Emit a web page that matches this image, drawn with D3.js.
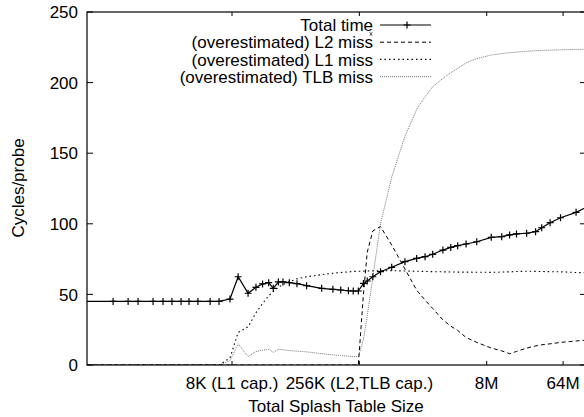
<!DOCTYPE html>
<html>
<head>
<meta charset="utf-8">
<script src="https://cdn.jsdelivr.net/npm/d3@7"></script>
<style>
  body { margin: 0; background: #fff; }
  text { font-family: "Liberation Sans", Arial, sans-serif; font-size: 17px; fill: #000; }
</style>
</head>
<body>
<div id="chart"></div>
<script>
// table size as log2(bytes)
let sizeLog2 = [7.00, 8.33, 8.92, 9.31, 9.90, 10.29, 10.64, 11.00, 11.31, 11.66, 12.14, 12.49,
  12.92, 13.24, 13.63, 13.94, 14.20, 14.44, 14.62, 14.82, 15.00, 15.25, 15.55, 15.93,
  16.52, 16.96, 17.27, 17.57, 17.76, 17.96, 18.16, 18.31, 18.53, 18.83, 19.27, 19.79,
  20.25, 20.58, 20.88, 21.28, 21.59, 21.86, 22.19, 22.61, 23.18, 23.59, 23.90, 24.17,
  24.57, 24.92, 25.16, 25.49, 25.90, 26.51, 27.00]

let totalTime = [45, 45, 45, 45, 45, 45, 45, 45, 45, 45, 45, 45,
  46.7, 62.5, 50.8, 55, 57.4, 58.3, 54.3, 58.8, 58.8, 58.3, 57.6, 56.2,
  54.3, 53.6, 53.1, 52.6, 52.4, 52.4, 57.8, 59.5, 62.5, 66.1, 69.2, 73.2,
  75.5, 76.7, 78.4, 81.4, 83.3, 84.5, 85.7, 87.3, 90.4, 90.9, 92.1, 92.8,
  93.3, 94.4, 97.2, 100.8, 104.3, 108.1, 112.6]

let l2Miss = [0, 0, 0, 0, 0, 0, 0, 0, 0, 0, 0, 0,
  0, 0, 0, 0, 0, 0, 0, 0, 0, 0, 0, 0,
  0, 0, 0, 0, 0, 0, 50, 80, 95, 98, 85, 68,
  53, 46, 40, 32, 27.5, 24.5, 19.5, 16, 12, 10, 8, 9.6,
  12, 13.5, 14.3, 15, 16, 17, 17.8]

let l1Miss = [0, 0, 0, 0, 0, 0, 0, 0, 0, 0, 0, 0,
  5, 23, 27, 37, 43.5, 49, 52, 55, 57, 59, 61, 62.5,
  64, 65, 65.5, 66, 66.2, 66.4, 66.5, 66.6, 66.7, 66.8, 66.8, 66.6,
  66.4, 66.2, 66.1, 66, 65.9, 65.8, 65.8, 65.7, 65.6, 65.8, 66, 66.2,
  66.4, 66.3, 66.2, 66.1, 66, 65.5, 65.2]

let tlbMiss = [0, 0, 0, 0, 0, 0, 0, 0, 0, 0, 0, 0,
  3, 15, 6, 9.5, 10.5, 11, 9, 11, 10.8, 10.2, 9.8, 9.3,
  8, 7.2, 6.7, 6.2, 6, 5.9, 18, 35, 62, 100, 133, 162,
  181, 190, 197, 203, 207, 210, 214, 217, 219.5, 220.5, 221.2, 221.6,
  222.2, 222.6, 222.8, 223, 223.2, 223.5, 223.6]

let xTickLog2 = [13, 18, 23, 26]
let xTickLabels = ["8K (L1 cap.)", "256K (L2,TLB cap.)", "8M", "64M"]
let yTicks = [0, 50, 100, 150, 200, 250]

let seriesNames = ["Total time", "(overestimated) L2 miss", "(overestimated) L1 miss", "(overestimated) TLB miss"]

let width = 584, height = 417
let margin = {top: 12, right: -2, bottom: 52, left: 87}
let plotW = width - margin.left - margin.right,
    plotH = height - margin.top - margin.bottom

let svg = d3.select("#chart").append("svg")
    .attr("width", width)
    .attr("height", height)

let g = svg.append("g")
    .attr("transform", "translate(" + margin.left + "," + margin.top + ")")

let x = d3.scaleLog().base(2)
    .domain([Math.pow(2, 7.305), Math.pow(2, 26.9)])
    .range([0, plotW])
let y = d3.scaleLinear().domain([0, 250]).range([plotH, 0])

g.append("clipPath").attr("id", "clip")
    .append("rect").attr("width", plotW).attr("height", plotH)

let points = sizeLog2.map((s, i) => ({
    size: Math.pow(2, s),
    total: totalTime[i], l2: l2Miss[i], l1: l1Miss[i], tlb: tlbMiss[i]
}))

let styles = [
    {key: "total", color: "#000", dash: null, w: 1.2},
    {key: "l2", color: "#000", dash: "4,3", w: 1},
    {key: "l1", color: "#000", dash: "1.5,3", w: 1.1},
    {key: "tlb", color: "#777", dash: "1,1", w: 1}
]

let plot = g.append("g").attr("clip-path", "url(#clip)")

// draw TLB, L1, L2 then total on top
;[3, 2, 1, 0].forEach(k => {
    let st = styles[k]
    let line = d3.line()
        .x(d => x(d.size))
        .y(d => y(d[st.key]))
    plot.append("path")
        .datum(points)
        .attr("fill", "none")
        .attr("stroke", st.color)
        .attr("stroke-width", st.w)
        .attr("stroke-dasharray", st.dash)
        .attr("d", line)
})

plot.selectAll(".mark").data(points)
    .enter()
    .append("path")
    .attr("transform", d => "translate(" + x(d.size) + "," + y(d.total) + ")")
    .attr("d", "M-3.5,0H3.5M0,-3.5V3.5")
    .attr("stroke", "#000")
    .attr("stroke-width", 1.2)

// border and ticks
g.append("rect")
    .attr("width", plotW).attr("height", plotH)
    .attr("fill", "none").attr("stroke", "#000").attr("stroke-width", 1.2)

yTicks.forEach(t => {
    g.append("line").attr("x1", 0).attr("x2", 6).attr("y1", y(t)).attr("y2", y(t)).attr("stroke", "#000")
    g.append("line").attr("x1", plotW - 6).attr("x2", plotW).attr("y1", y(t)).attr("y2", y(t)).attr("stroke", "#000")
    g.append("text")
        .attr("x", -9).attr("y", y(t))
        .attr("dy", "0.36em")
        .attr("text-anchor", "end")
        .text(t)
})

xTickLog2.forEach((t, i) => {
    let xp = x(Math.pow(2, t))
    g.append("line").attr("x1", xp).attr("x2", xp).attr("y1", plotH).attr("y2", plotH - 4).attr("stroke", "#000")
    g.append("line").attr("x1", xp).attr("x2", xp).attr("y1", 0).attr("y2", 4).attr("stroke", "#000")
    g.append("text")
        .attr("x", xp).attr("y", plotH + 24)
        .attr("text-anchor", "middle")
        .text(xTickLabels[i])
})

svg.append("text")
    .attr("x", 336).attr("y", 412)
    .attr("text-anchor", "middle")
    .text("Total Splash Table Size")

svg.append("text")
    .attr("transform", "translate(24,188) rotate(-90)")
    .attr("text-anchor", "middle")
    .text("Cycles/probe")

// legend
let legend = svg.append("g")
seriesNames.forEach((name, i) => {
    let ly = 25 + i * 17.2
    let st = styles[i]
    legend.append("text")
        .attr("x", 373).attr("y", ly)
        .attr("dy", "0.36em")
        .attr("text-anchor", "end")
        .text(name)
    legend.append("line")
        .attr("x1", 380).attr("x2", 431).attr("y1", ly).attr("y2", ly)
        .attr("stroke", st.color)
        .attr("stroke-width", st.w)
        .attr("stroke-dasharray", st.dash)
    if (i == 0) {
        legend.append("path")
            .attr("transform", "translate(407," + ly + ")")
            .attr("d", "M-3.5,0H3.5M0,-3.5V3.5")
            .attr("stroke", "#000").attr("stroke-width", 1.2)
    }
})
// tiny stray mark under "time" in the original
legend.append("path")
    .attr("transform", "translate(371,34)")
    .attr("d", "M-1.5,-1.5L1.5,1.5M1.5,-1.5L-1.5,1.5M0,-2V2")
    .attr("stroke", "#555").attr("stroke-width", 0.8)
</script>
</body>
</html>
